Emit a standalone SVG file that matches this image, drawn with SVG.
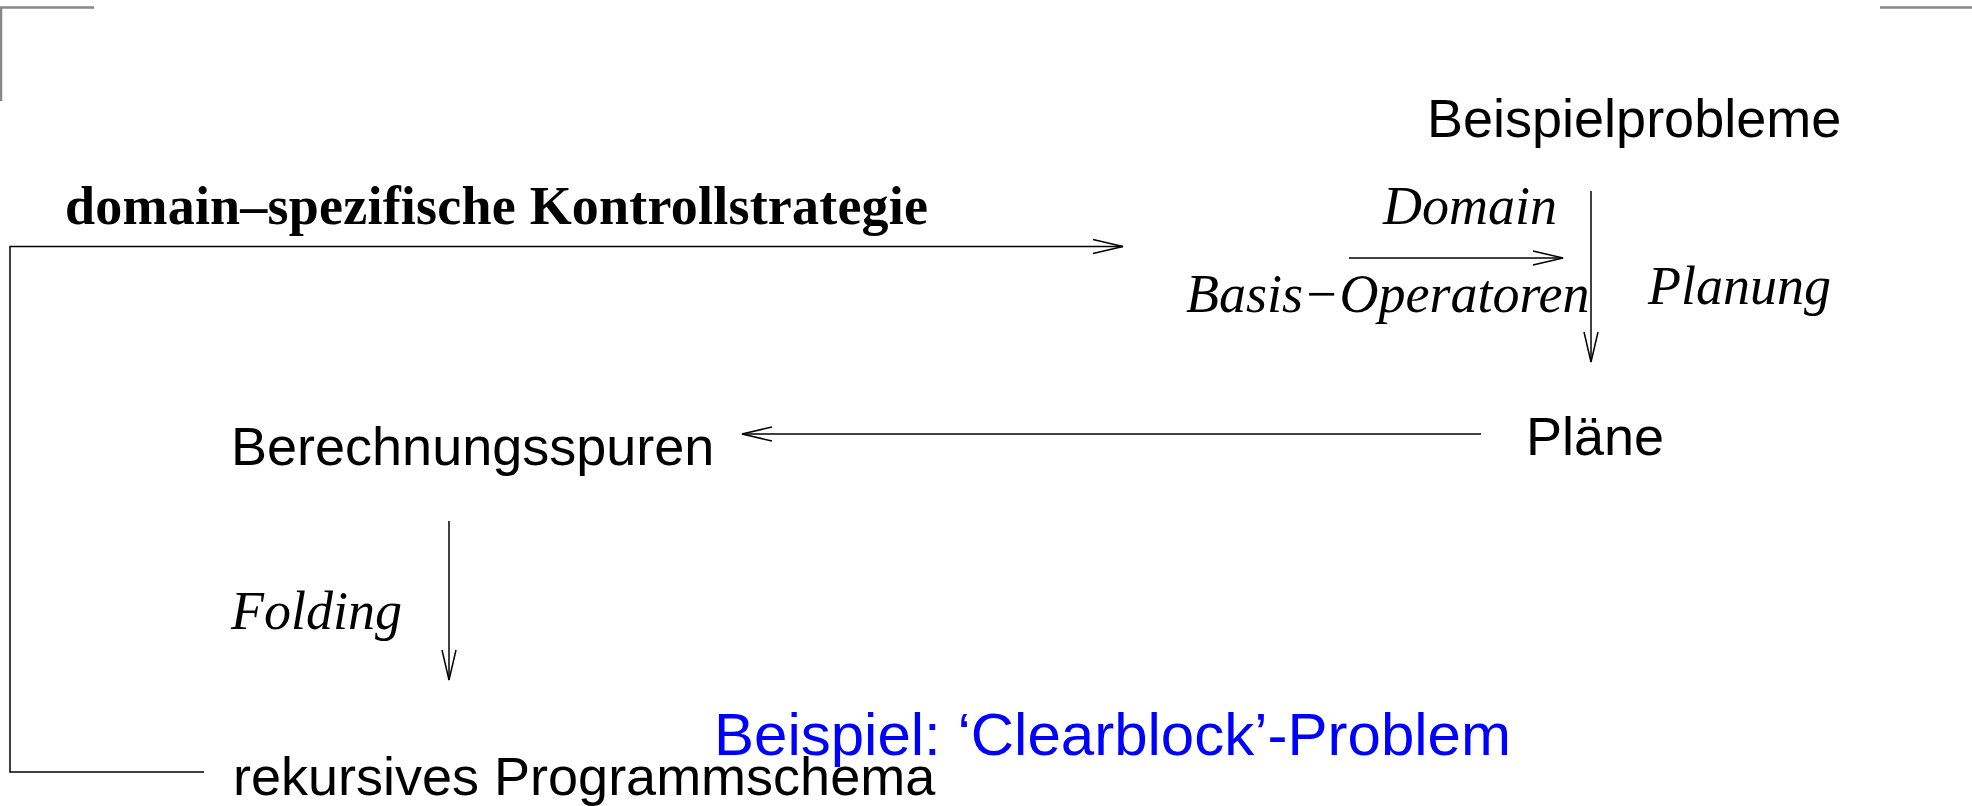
<svg xmlns="http://www.w3.org/2000/svg" width="1972" height="806" viewBox="0 0 1972 806">
  <style>
    .sans { font-family: "Liberation Sans", Arial, sans-serif; font-size: 54px; fill: #000; }
    .ital { font-family: "Liberation Serif", "Times New Roman", serif; font-style: italic; font-size: 54px; fill: #000; }
    .bold { font-family: "Liberation Serif", "Times New Roman", serif; font-weight: bold; font-size: 54px; fill: #000; }
    .blue { font-family: "Liberation Sans", Arial, sans-serif; font-size: 60px; fill: #0000ff; }
    .edge { fill: none; stroke: #000; stroke-width: 1.5; }
    .frame { fill: none; stroke: #888; stroke-width: 2.5; }
  </style>
  <defs>
    <marker id="open" markerUnits="userSpaceOnUse" markerWidth="34" markerHeight="18" viewBox="0 0 34 18" refX="32" refY="9" orient="auto">
      <path d="M2,2 L32,9 L2,16" fill="none" stroke="#000" stroke-width="1.5"/>
    </marker>
  </defs>
  <rect width="1972" height="806" fill="#fff"/>

  <!-- page corner marks -->
  <g id="corners">
    <path class="frame" d="M1,101 V7.5 H94"/>
    <path class="frame" d="M1880,7.5 H1972"/>
  </g>

  <!-- connectors -->
  <g id="connectors">
    <path class="edge" d="M204,772 H10 V246.5 H1123" marker-end="url(#open)"/>
    <path class="edge" d="M1349,258 H1563" marker-end="url(#open)"/>
    <path class="edge" d="M1591,191 V362" marker-end="url(#open)"/>
    <path class="edge" d="M1481,434 H742" marker-end="url(#open)"/>
    <path class="edge" d="M449,521 V680" marker-end="url(#open)"/>
  </g>

  <!-- edge labels -->
  <g id="labels">
    <text class="bold" x="65" y="224" textLength="863">domain–spezifische Kontrollstrategie</text>
    <text class="ital" x="1383" y="224">Domain</text>
    <text class="ital" x="1186" y="312">Basis−Operatoren</text>
    <text class="ital" x="1648" y="304">Planung</text>
    <text class="ital" x="231" y="629">Folding</text>
  </g>

  <!-- nodes -->
  <g id="beispielprobleme"><text class="sans" x="1427" y="137">Beispielprobleme</text></g>
  <g id="plaene"><text class="sans" x="1526" y="455">Pläne</text></g>
  <g id="berechnungsspuren"><text class="sans" x="231" y="465">Berechnungsspuren</text></g>
  <g id="programmschema"><text class="sans" x="233" y="795">rekursives Programmschema</text></g>

  <!-- caption -->
  <g id="caption"><text class="blue" x="714" y="755">Beispiel: ‘Clearblock’-Problem</text></g>
</svg>
